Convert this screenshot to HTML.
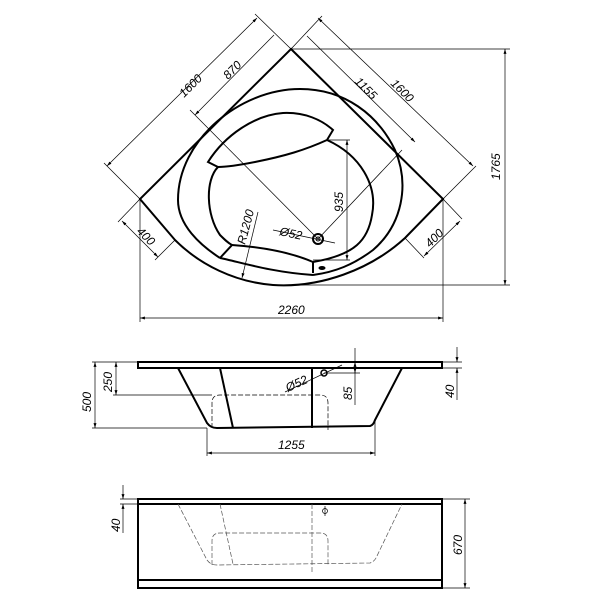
<!DOCTYPE html>
<html><head><meta charset="utf-8"><style>html,body{margin:0;padding:0;background:#fff}svg{display:block}</style></head>
<body>
<svg width="600" height="600" viewBox="0 0 600 600" xmlns="http://www.w3.org/2000/svg" font-family="Liberation Sans, sans-serif" font-style="italic" font-size="12" fill="none" stroke="#000">
<defs>
<marker id="a" viewBox="0 0 10 10" refX="10" refY="5" markerWidth="7" markerHeight="7" orient="auto-start-reverse"><path d="M0,2 L10,5 L0,8z" fill="#000" stroke="none"/></marker>
</defs>
<!-- TOP VIEW -->
<g stroke-width="2">
<path d="M291,49 L443,199 L405,238 C370,270 320,288 273,285 C235,282 200,265 175,240 L140,199 Z"/>
<path d="M178,200 C178,140 240,89 300,89 C345,89 378,115 395,150 C410,185 402,225 373,250 C353,265 335,272 313,275"/>
<path d="M313,275 C270,272 240,262 220,258"/>
<path d="M220,258 C200,245 178,225 178,200"/>
<path d="M208,162 C225,135 255,115 283,113 C305,112 322,120 333,130 L327,140 C305,150 285,156 255,162 C240,165 228,167 218,167 Z"/>
<path d="M218,167 C205,180 206,215 220,235 C225,240 228,243 232,245 L220,258"/>
<path d="M232,245 C260,247 290,252 313,262 L313,273"/>
<path d="M327,140 C360,155 378,185 372,215 C368,240 355,255 313,262"/>
</g>
<circle cx="318" cy="239" r="5" stroke-width="2"/><circle cx="318" cy="239" r="2" stroke-width="1"/>
<ellipse cx="322" cy="268" rx="3" ry="1.5" fill="#000"/>
<g stroke-width="0.7">
<line x1="140" y1="199" x2="104" y2="163"/><line x1="291" y1="49" x2="255" y2="14"/>
<line x1="107" y1="166" x2="257" y2="18" marker-start="url(#a)" marker-end="url(#a)"/>
<line x1="195" y1="115" x2="274" y2="35" marker-start="url(#a)"/>
<line x1="190" y1="110" x2="318" y2="239"/>
<line x1="291" y1="49" x2="322" y2="16"/><line x1="443" y1="199" x2="476" y2="166"/>
<line x1="318" y1="18" x2="473" y2="166" marker-start="url(#a)" marker-end="url(#a)"/>
<line x1="307" y1="36" x2="415" y2="142" marker-end="url(#a)"/>
<line x1="318" y1="239" x2="402" y2="150"/>
<line x1="140" y1="199" x2="118" y2="222"/><line x1="175" y1="240" x2="155" y2="260"/>
<line x1="122" y1="221" x2="158" y2="257" marker-start="url(#a)" marker-end="url(#a)"/>
<line x1="443" y1="199" x2="462" y2="219"/><line x1="405" y1="238" x2="424" y2="258"/>
<line x1="460" y1="221" x2="424" y2="256" marker-start="url(#a)" marker-end="url(#a)"/>
<line x1="291" y1="49" x2="510" y2="49"/><line x1="273" y1="285" x2="510" y2="285"/>
<line x1="505" y1="49" x2="505" y2="285" marker-start="url(#a)" marker-end="url(#a)"/>
<line x1="140" y1="199" x2="140" y2="322"/><line x1="443" y1="199" x2="443" y2="322"/>
<line x1="140" y1="318" x2="443" y2="318" marker-start="url(#a)" marker-end="url(#a)"/>
<line x1="327" y1="140" x2="350" y2="140"/><line x1="313" y1="260" x2="350" y2="260"/>
<line x1="347" y1="140" x2="347" y2="260" marker-start="url(#a)" marker-end="url(#a)"/>
<line x1="258" y1="212" x2="242" y2="278" marker-end="url(#a)"/>
<line x1="273" y1="230" x2="335" y2="243"/>
</g>
<g fill="#000" stroke="none">
<text transform="translate(184,98) rotate(-45)">1600</text>
<text transform="translate(228,80) rotate(-45)">870</text>
<text transform="translate(354,82) rotate(45)">1155</text>
<text transform="translate(390,84) rotate(45)">1600</text>
<text transform="translate(136,232) rotate(45)">400</text>
<text transform="translate(430,248) rotate(-45)">400</text>
<text transform="translate(500,180) rotate(-90)">1765</text>
<text x="278" y="314">2260</text>
<text transform="translate(343,212) rotate(-90)">935</text>
<text transform="translate(245,245) rotate(-75)">R1200</text>
<text transform="translate(279,235) rotate(12)">Ø52</text>
</g>
<!-- SIDE VIEW -->
<g stroke-width="2">
<rect x="138" y="362" width="304" height="6"/>
<path d="M178,368 L207,423 C210,427 213,428 217,428 L370,426 C373,425 374,423 375,420 L402,368"/>
<line x1="220" y1="368" x2="233" y2="428"/>
<line x1="312" y1="368" x2="312" y2="428"/>
</g>
<circle cx="324" cy="373" r="3" stroke-width="1.5"/>
<g stroke-width="0.7">
<path d="M212,428 L212,403 Q212,395 220,395 L320,395 Q328,395 328,403 L328,430" stroke-dasharray="5,2"/>
<line x1="92" y1="362" x2="138" y2="362"/><line x1="92" y1="428" x2="207" y2="428"/>
<line x1="95" y1="362" x2="95" y2="428" marker-start="url(#a)" marker-end="url(#a)"/>
<line x1="113" y1="395" x2="212" y2="395"/>
<line x1="116" y1="362" x2="116" y2="395" marker-start="url(#a)" marker-end="url(#a)"/>
<line x1="324" y1="373" x2="360" y2="373"/>
<line x1="355" y1="348" x2="355" y2="373" marker-end="url(#a)"/><line x1="355" y1="362" x2="355" y2="405" marker-start="url(#a)"/>
<line x1="442" y1="362" x2="462" y2="362"/><line x1="442" y1="368" x2="462" y2="368"/>
<line x1="457" y1="347" x2="457" y2="362" marker-end="url(#a)"/><line x1="457" y1="368" x2="457" y2="400" marker-start="url(#a)"/>
<line x1="207" y1="428" x2="207" y2="456"/><line x1="375" y1="420" x2="375" y2="456"/>
<line x1="207" y1="453" x2="375" y2="453" marker-start="url(#a)" marker-end="url(#a)"/>
<line x1="285" y1="392" x2="342" y2="365"/>
</g>
<g fill="#000" stroke="none">
<text transform="translate(91,412) rotate(-90)">500</text>
<text transform="translate(112,392) rotate(-90)">250</text>
<text transform="translate(352,400) rotate(-90)">85</text>
<text transform="translate(454,398) rotate(-90)">40</text>
<text x="278" y="449">1255</text>
<text transform="translate(288,392) rotate(-25)">Ø52</text>
</g>
<!-- FRONT VIEW -->
<g stroke-width="2">
<rect x="138" y="499" width="304" height="89"/>
<line x1="138" y1="504" x2="442" y2="504"/>
<line x1="138" y1="580" x2="442" y2="580"/>
</g>
<g stroke-width="0.7" stroke-dasharray="5,2" stroke="#555">
<path d="M178,504 L207,560 C210,564 213,565 217,565 L370,563 C373,562 375,560 376,558 L402,504"/>
<line x1="220" y1="504" x2="233" y2="564"/>
<line x1="312" y1="504" x2="312" y2="572"/>
<path d="M212,565 L212,541 Q212,533 220,533 L320,533 Q328,533 328,541 L328,566"/>
</g>
<g stroke-width="0.7">
<circle cx="325" cy="511" r="2.5"/><line x1="325" y1="506" x2="325" y2="516"/>
<line x1="120" y1="499" x2="138" y2="499"/><line x1="120" y1="504" x2="138" y2="504"/>
<line x1="123" y1="485" x2="123" y2="499" marker-end="url(#a)"/><line x1="123" y1="504" x2="123" y2="533" marker-start="url(#a)"/>
<line x1="442" y1="499" x2="470" y2="499"/><line x1="442" y1="588" x2="470" y2="588"/>
<line x1="465" y1="499" x2="465" y2="588" marker-start="url(#a)" marker-end="url(#a)"/>
</g>
<g fill="#000" stroke="none">
<text transform="translate(120,532) rotate(-90)">40</text>
<text transform="translate(462,555) rotate(-90)">670</text>
</g>
</svg>
</body></html>
